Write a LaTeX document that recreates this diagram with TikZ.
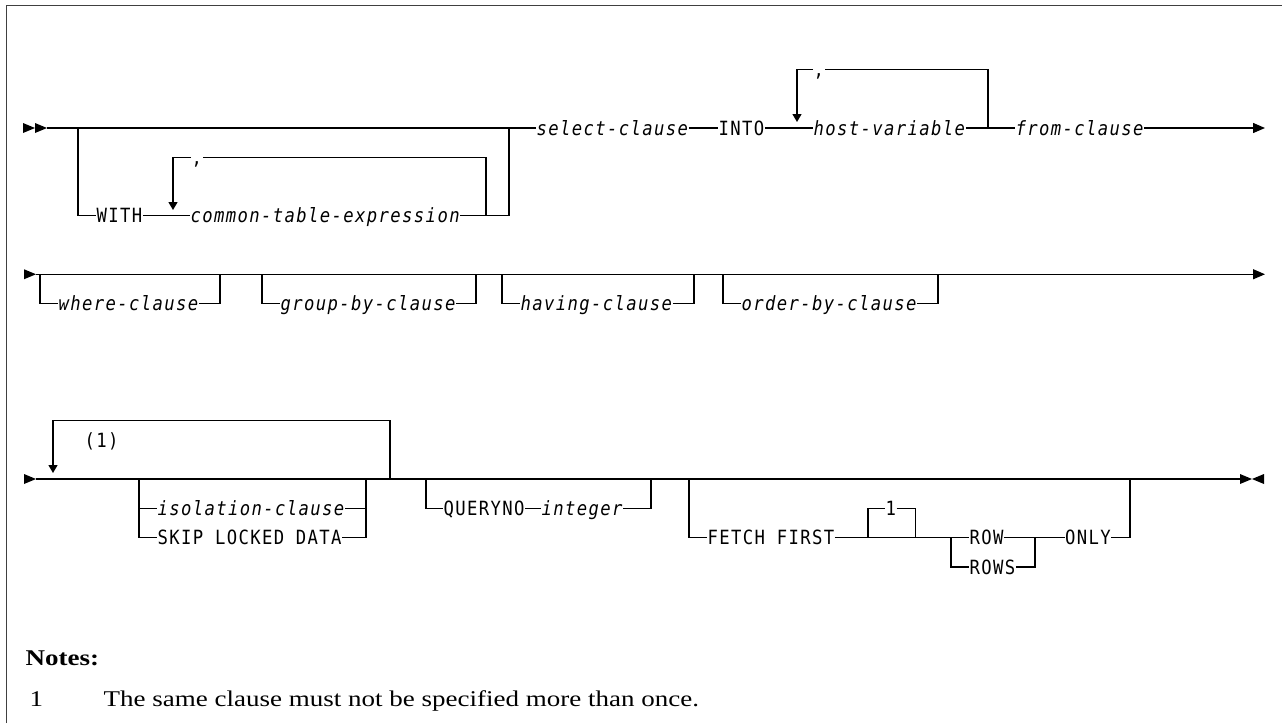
\documentclass[tikz,border=0pt]{standalone}
\usepackage{fontspec}
\setmainfont{Liberation Serif}
\newfontfamily\notesfont{Liberation Serif}[FakeStretch=1.2]
\newfontfamily\rrfont{DejaVu Sans Mono}[FakeStretch=0.88,LetterSpace=7]
\usetikzlibrary{arrows.meta}
\begin{document}
\begin{tikzpicture}[x=1pt,y=-1pt,line width=1.3pt,
  rr/.style={inner sep=0pt,text height=14pt,text depth=0pt,anchor=west,font=\rrfont\fontsize{19.6}{20}\selectfont},
  kw/.style={rr},
  var/.style={rr,font=\rrfont\fontsize{19.6}{20}\selectfont\itshape},
  tip/.style={-{Triangle[length=12pt,width=10pt]}},
  dtip/.style={-{Triangle[length=8pt,width=9pt]}},
  note/.style={inner sep=0pt,anchor=base west,font=\notesfont\fontsize{22.5}{24}\selectfont}]
\useasboundingbox (0,0) rectangle (1282,723);
% frame
\draw[line width=1.5pt,black!75] (6.5,723) -- (6.5,5.5) -- (1282,5.5);

% ---------------- row 1 ----------------
\fill (23,123) -- (35,128) -- (23,133) -- cycle;
\fill (35,123) -- (47,128) -- (35,133) -- cycle;
\coordinate (s1) at (47,128);
\coordinate (b1l) at (78,128);
\coordinate (b1r) at (509,128);
\coordinate (e1) at (1265,128);
\node[kw]  (with) at (96,215.75) {WITH};
\node[var] (cte)  at (190,215.75) {common-table-expression};
\node[kw]  (c1)   at (191,157.25) {,};
\node[var] (sel)  at (536,128) {select-clause};
\node[kw]  (into) at (718,128) {INTO};
\node[var] (host) at (813,128) {host-variable};
\node[kw]  (c2)   at (813,69.5) {,};
\node[var] (from) at (1015,128) {from-clause};

\draw (s1) -- (sel.west);
\draw (b1l) |- (with.west);
\draw (with.east) -- (cte.west);
\draw (cte.east) -| (b1r);
\draw (486,215.75) -- (486,157.25) -- (c1.east);
\draw[dtip] (c1.west) -- (173,157.25) -- (173,210);
\draw (sel.east) -- (into.west);
\draw (into.east) -- (host.west);
\draw (host.east) -- (from.west);
\draw (988,128) -- (988,69.5) -- (c2.east);
\draw[dtip] (c2.west) -- (797,69.5) -- (797,122);
\draw[tip] (from.east) -- (e1);

% ---------------- row 2 ----------------
\fill (24,269.25) -- (36,274.25) -- (24,279.25) -- cycle;
\coordinate (s2) at (36,274.25);
\coordinate (e2) at (1265,274.25);
\draw[tip] (s2) -- (e2);
\node[var] (where) at (58,303.5) {where-clause};
\node[var] (group) at (280,303.5) {group-by-clause};
\node[var] (having) at (520,303.5) {having-clause};
\node[var] (order) at (741,303.5) {order-by-clause};
\draw (40,274.25) |- (where.west);
\draw (where.east) -| (220,274.25);
\draw (262,274.25) |- (group.west);
\draw (group.east) -| (476,274.25);
\draw (502,274.25) |- (having.west);
\draw (having.east) -| (694,274.25);
\draw (723,274.25) |- (order.west);
\draw (order.east) -| (938,274.25);

% ---------------- row 3 ----------------
\fill (24,474) -- (36,479) -- (24,484) -- cycle;
\coordinate (s3) at (36,479);
\coordinate (e3) at (1240,479);
\draw (s3) -- (e3);
\fill (1240,474) -- (1252,479) -- (1240,484) -- cycle;
\fill (1264,474) -- (1252,479) -- (1264,484) -- cycle;
\node[kw] (ref1) at (84,440) {(1)};
\draw[dtip] (390,479) -- (390,420.5) -- (53,420.5) -- (53,473);
\node[var] (iso)  at (157,508.25) {isolation-clause};
\node[kw]  (skip) at (157,537.5) {SKIP LOCKED DATA};
\draw (139,479) -- (139,537.5) -- (skip.west);
\draw (139,508.25) -- (iso.west);
\draw (iso.east) -- (366,508.25);
\draw (skip.east) -- (366,537.5) -- (366,479);
\node[kw]  (qno) at (443,508.25) {QUERYNO};
\node[var] (int) at (541,508.25) {integer};
\draw (426,479) |- (qno.west);
\draw (qno.east) -- (int.west);
\draw (int.east) -| (651,479);
\node[kw] (fetch) at (707,537.5) {FETCH FIRST};
\node[kw] (one) at (885,508.25) {1};
\node[kw] (row) at (969,537.5) {ROW};
\node[kw] (rows) at (969,567) {ROWS};
\node[kw] (only) at (1064.5,537.5) {ONLY};
\draw (689,479) |- (fetch.west);
\draw (fetch.east) -- (row.west);
\draw (868,537.5) |- (one.west);
\draw (one.east) -| (915.5,537.5);
\draw (951,537.5) |- (rows.west);
\draw (row.east) -- (1035,537.5);
\draw (rows.east) -| (1035,537.5);
\draw (1035,537.5) -- (only.west);
\draw (only.east) -| (1130,479);

% ---------------- notes ----------------
\node[note,font=\notesfont\fontsize{22.5}{24}\selectfont\bfseries] (notes) at (25,665) {Notes:};
\node[note] (n1) at (29,706) {1};
\node[note] (n1t) at (103,706) {The same clause must not be specified more than once.};
\end{tikzpicture}
\end{document}
